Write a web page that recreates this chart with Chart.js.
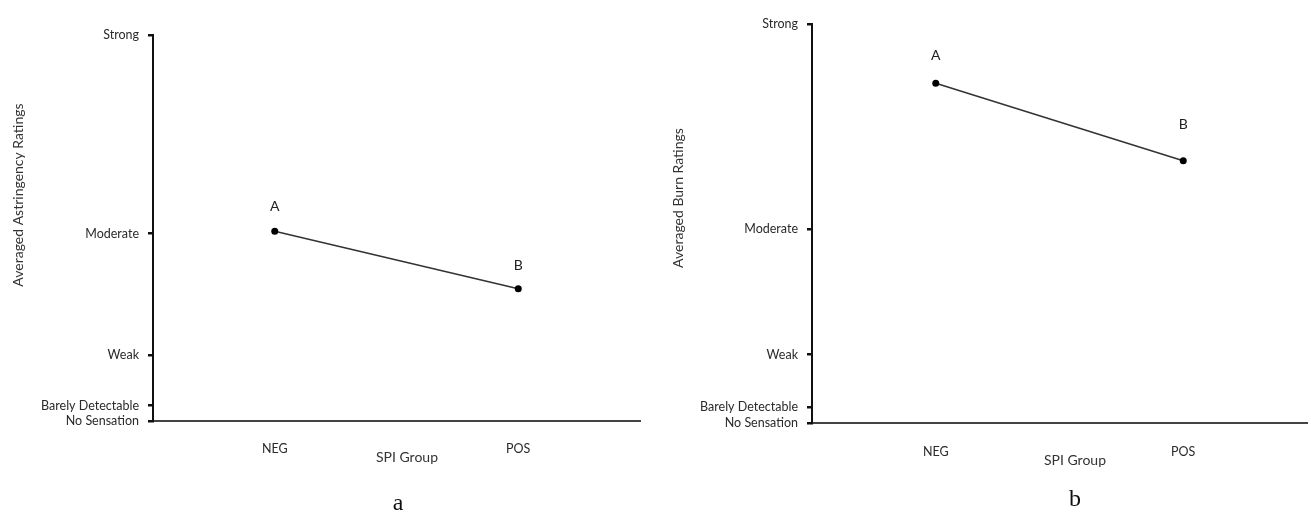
<!DOCTYPE html>
<html>
<head>
<meta charset="utf-8">
<title>SPI Group ratings</title>
<script src="https://cdn.jsdelivr.net/npm/chart.js@4"></script>
<style>
  body { margin: 0; background: #fff; width: 1311px; height: 512px; overflow: hidden; position: relative; }
  canvas { position: absolute; top: 0; }
  #chartA { left: 0; }
  #chartB { left: 655px; }
</style>
</head>
<body>
<canvas id="chartA" width="655" height="512"></canvas>
<canvas id="chartB" width="656" height="512"></canvas>
<script>
// x slots: the two groups sit on the 2nd and 4th of five slots
const xSlots = ["", "NEG", "", "POS", ""];
const groups = ["NEG", "POS"];
const letters = ["A", "B"];

// gLMS scale
const scaleValues = [0, 1.4, 6, 17, 35];
const scaleLabels = ["No Sensation", "Barely Detectable", "Weak", "Moderate", "Strong"];

const astringency = [17.2, 12.0];
const burn = [29.8, 23.0];

const FONT = "Lato, 'Open Sans', sans-serif";

// free text (axis titles, panel letter)
const textPlugin = {
  id: "freeText",
  afterDraw(chart, args, opts) {
    const ctx = chart.ctx;
    (opts.items || []).forEach((it) => {
      ctx.save();
      ctx.translate(it.x, it.y);
      if (it.rotate) ctx.rotate(it.rotate);
      ctx.font = it.font;
      ctx.fillStyle = it.color || "#333";
      ctx.textAlign = "center";
      ctx.textBaseline = it.baseline || "middle";
      ctx.fillText(it.text, 0, 0);
      ctx.restore();
    });
  },
};

// A / B above the points
const letterPlugin = {
  id: "pointLetters",
  afterDatasetsDraw(chart, args, opts) {
    const meta = chart.getDatasetMeta(0);
    const ctx = chart.ctx;
    ctx.save();
    ctx.font = "14px " + FONT;
    ctx.fillStyle = "#222";
    ctx.textAlign = "center";
    ctx.textBaseline = "middle";
    meta.data.forEach((pt, i) => {
      ctx.fillText(letters[i], pt.x, pt.y - opts.lift[i]);
    });
    ctx.restore();
  },
};

function makeChart(id, values, cfg) {
  return new Chart(document.getElementById(id), {
    type: "line",
    data: {
      labels: xSlots,
      datasets: [
        {
          data: groups.map((g, i) => ({ x: g, y: values[i] })),
          borderColor: "#333",
          borderWidth: 1.6,
          pointRadius: 3.5,
          pointBackgroundColor: "#000",
          pointBorderColor: "#000",
          pointBorderWidth: 0,
        },
      ],
    },
    options: {
      responsive: false,
      animation: false,
      events: [],
      layout: { padding: { top: cfg.top, right: cfg.right, left: 0, bottom: 0 } },
      plugins: {
        legend: { display: false },
        tooltip: { enabled: false },
        freeText: { items: cfg.texts },
        pointLetters: { lift: cfg.lift },
      },
      scales: {
        x: {
          type: "category",
          offset: false,
          grid: { display: false },
          border: { display: true, color: "#444", width: 2 },
          ticks: {
            autoSkip: false,
            maxRotation: 0,
            padding: cfg.xPad,
            color: "#2a2a2a",
            font: { family: FONT, size: 12.5 },
          },
          afterFit: (s) => {
            s.height = cfg.xHeight;
            s.paddingLeft = 0;
            s.paddingRight = 0;
          },
        },
        y: {
          min: 0,
          max: 35,
          afterBuildTicks: (s) => { s.ticks = scaleValues.map((v) => ({ value: v })); },
          grid: { drawOnChartArea: false, drawTicks: true, tickLength: 5, lineWidth: 2.5, color: "#111" },
          border: { color: "#111", width: 2 },
          ticks: {
            autoSkip: false,
            padding: 9,
            color: "#2a2a2a",
            font: { family: FONT, size: 12.5 },
            callback: (v, i) => scaleLabels[i],
          },
          afterFit: (s) => { s.width = cfg.yWidth; },
        },
      },
    },
    plugins: [textPlugin, letterPlugin],
  });
}

makeChart("chartA", astringency, {
  top: 35, right: 15, yWidth: 153, xHeight: 91, xPad: 12,
  lift: [25, 23],
  texts: [
    { text: "Averaged Astringency Ratings", x: 18, y: 195, rotate: -Math.PI / 2, font: "14px " + FONT },
    { text: "SPI Group", x: 407, y: 457, font: "14px " + FONT },
    { text: "a", x: 398, y: 510, baseline: "alphabetic", color: "#111", font: "24px 'Liberation Serif', serif" },
  ],
});

makeChart("chartB", burn, {
  top: 24, right: -3, yWidth: 157, xHeight: 89, xPad: 13,
  lift: [28, 36],
  texts: [
    { text: "Averaged Burn Ratings", x: 23, y: 198, rotate: -Math.PI / 2, font: "14px " + FONT },
    { text: "SPI Group", x: 420, y: 460, font: "14px " + FONT },
    { text: "b", x: 420, y: 506, baseline: "alphabetic", color: "#111", font: "24px 'Liberation Serif', serif" },
  ],
});
</script>
</body>
</html>
